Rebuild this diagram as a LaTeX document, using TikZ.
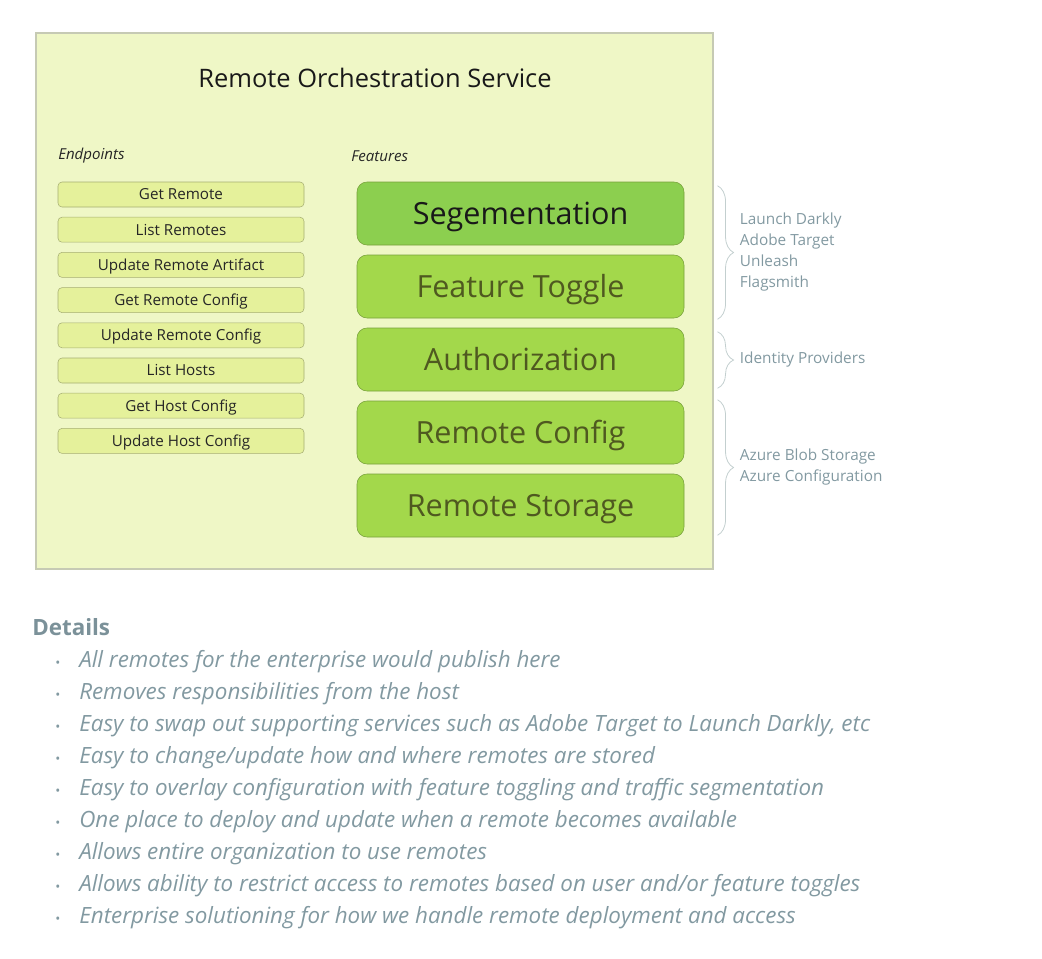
\documentclass[tikz,border=0pt]{standalone}
\usepackage{fontspec}
\setmainfont{Open Sans}
\usepackage{tikz}
\usetikzlibrary{positioning,calc,decorations.pathreplacing}
\definecolor{svcfill}{HTML}{EFF7C6}
\definecolor{svcline}{HTML}{C6CAB4}
\definecolor{epfill}{HTML}{E5F19B}
\definecolor{epline}{HTML}{A6AE72}
\definecolor{segfill}{HTML}{8CCF4F}
\definecolor{featfill}{HTML}{A3D84B}
\definecolor{featline}{HTML}{77A03A}
\definecolor{feattext}{HTML}{4F5920}
\definecolor{notegray}{HTML}{8299A1}
\definecolor{bracegray}{HTML}{C3CFCF}
\tikzset{
  service/.style={draw=svcline, fill=svcfill, line width=0.8pt},
  caption/.style={anchor=west, inner sep=0pt, font=\fontsize{11.3}{13}\selectfont\itshape, text=black!85},
  endpoint/.style={draw=epline, fill=epfill, rounded corners=3pt, inner sep=0pt, minimum width=184.5pt, minimum height=18.75pt, text height=8.1pt, text depth=0pt, font=\fontsize{11.4}{13}\selectfont, text=black!85},
  feature/.style={draw=featline, fill=featfill, rounded corners=7.5pt, inner sep=0pt, minimum width=245.25pt, minimum height=47.25pt, text height=16.4pt, text depth=0pt, font=\fontsize{22.9}{26}\selectfont, text=feattext},
  sidebrace/.style={draw=bracegray, line width=0.6pt, decorate, decoration={brace, amplitude=12pt, aspect=0.5}},
  sidenote/.style={anchor=west, inner sep=0pt, align=left, font=\fontsize{11.5}{15.75}\selectfont, text=notegray},
  detail/.style={anchor=base west, inner sep=0pt, font=\fontsize{16.8}{19}\selectfont\itshape, text=notegray},
  dot/.style={anchor=base, inner sep=0pt, font=\fontsize{10}{11}\selectfont, text=notegray}
}
\begin{document}
\begin{tikzpicture}[x=0.75pt,y=-0.75pt]
  \useasboundingbox (0,0) rectangle (1042,958);
  % service box
  \node[service, minimum width=507.75pt, minimum height=402pt, inner sep=0pt] (service) at (374.5,301) {};
  \node[font=\fontsize{19.1}{22}\selectfont, text=black!90] (title) at (375,78) {Remote Orchestration Service};
  \node[caption] (eplabel) at (58,156) {Endpoints};
  \node[caption] (ftlabel) at (351,156) {Features};
  % endpoints
  \foreach \name [count=\i] in {Get Remote, List Remotes, Update Remote Artifact, Get Remote Config,
      Update Remote Config, List Hosts, Get Host Config, Update Host Config}
    \node[endpoint] (ep\i) at (181,{194.5+35.2*(\i-1)}) {\name};
  % features
  \node[feature, fill=segfill, text=black!90] (seg) at (520.5,213.5) {Segementation};
  \node[feature] (tog) at (520.5,286.5) {Feature Toggle};
  \node[feature] (auth) at (520.5,359.5) {Authorization};
  \node[feature] (rcfg) at (520.5,432.5) {Remote Config};
  \node[feature] (rsto) at (520.5,505.5) {Remote Storage};
  % providers
  \draw[sidebrace] ($(seg.north -| service.east)+(4,4)$) -- ($(tog.south -| service.east)+(4,1)$)
    node[sidenote, midway, xshift=16.5pt] (flags) {Launch Darkly\\Adobe Target\\Unleash\\Flagsmith};
  \draw[sidebrace] ($(auth.north -| service.east)+(4,4)$) -- ($(auth.south -| service.east)+(4,-3)$)
    node[sidenote, midway, xshift=16.5pt] (idp) {Identity Providers};
  \draw[sidebrace] ($(rcfg.north -| service.east)+(4,-1)$) -- ($(rsto.south -| service.east)+(4,-2)$)
    node[sidenote, midway, xshift=16.5pt] (azure) {Azure Blob Storage\\Azure Configuration};
  % details
  \node[anchor=west, inner sep=0pt, font=\fontsize{16.8}{19}\selectfont\bfseries, text=notegray!95!black] (details) at (32,627) {Details};
  \foreach \txt [count=\i] in {
      {All remotes for the enterprise would publish here},
      {Removes responsibilities from the host},
      {Easy to swap out supporting services such as Adobe Target to Launch Darkly, etc},
      {Easy to change/update how and where remotes are stored},
      {Easy to overlay configuration with feature toggling and traffic segmentation},
      {One place to deploy and update when a remote becomes available},
      {Allows entire organization to use remotes},
      {Allows ability to restrict access to remotes based on user and/or feature toggles},
      {Enterprise solutioning for how we handle remote deployment and access}} {
    \node[dot] (dot\i) at (58,{667+32*(\i-1)}) {\textbullet};
    \node[detail] (item\i) at (79,{667+32*(\i-1)}) {\txt};
  }
\end{tikzpicture}
\end{document}
